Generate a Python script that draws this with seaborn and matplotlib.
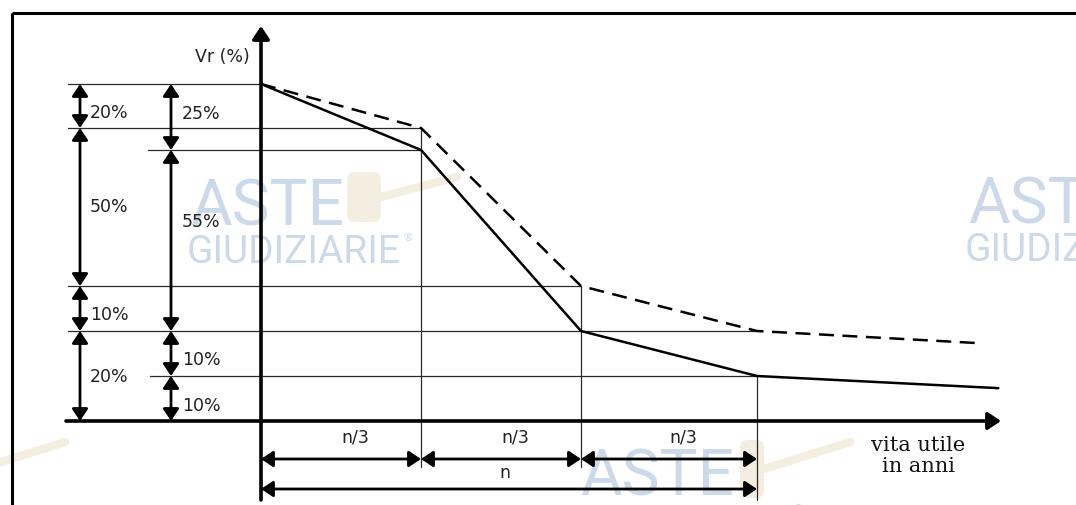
import numpy as np
import pandas as pd
import matplotlib
matplotlib.use("Agg")
import matplotlib.pyplot as plt
import seaborn as sns
from matplotlib.patches import FancyBboxPatch

# ---------------- data ----------------
# diagram levels (residual value %) and where they sit on the (not-to-scale) vertical axis
pct_knots = [0, 10, 20, 30, 75, 80, 100]
pct_pos = [422, 377, 332, 287, 151, 129, 85]
# fractions of useful life n and their horizontal positions
life_knots = [0, 1 / 3, 2 / 3, 1, 1.5]
life_pos = [261, 421, 581, 757, 1021]

life_solid = [0, 1 / 3, 2 / 3, 1, 1.457]
vr_solid = [100, 75, 20, 10, 7.3]
life_dashed = [0, 1 / 3, 2 / 3, 1, 1.42]
vr_dashed = [100, 80, 30, 20, 17.3]

col1_bounds = [100, 80, 30, 20, 0]
col1_labels = ["20%", "50%", "10%", "20%"]
col2_bounds = [100, 75, 20, 10, 0]
col2_labels = ["25%", "55%", "10%", "10%"]

life_segments = [0, 1 / 3, 2 / 3, 1]
segment_labels = ["n/3", "n/3", "n/3"]
total_label = "n"
y_label = "Vr (%)"
x_label = "vita utile\nin anni"


def X(f):
    return np.interp(f, life_knots, life_pos)


def Y(p):
    return np.interp(p, pct_knots, pct_pos)


# ---------------- figure ----------------
sns.set_theme(style="white")
plt.rcParams["font.family"] = ["DejaVu Sans"]

W, H = 1076, 506
fig = plt.figure(figsize=(W / 100, H / 100), dpi=100)
ax = fig.add_axes([0, 0, 1, 1])
ax.set_xlim(0, W)
ax.set_ylim(H, 0)
ax.axis("off")

wm = "#ccd9ea"
cream = "#f3eee0"

# watermarks
def watermark(x, y):
    ax.text(x, y, "ASTE", fontsize=46, family="Roboto", color=wm,
            ha="left", va="baseline", zorder=0)
    ax.text(x - 3, y + 38, "GIUDIZIARIE", fontsize=28, family="Roboto",
            color=wm, ha="left", va="baseline", zorder=0)
    ax.text(x + 213, y + 16, "®", fontsize=8, color=wm, ha="left", va="baseline", zorder=0)

watermark(190, 225)
watermark(968, 223)
watermark(580, 496)


def gavel(hx, hy, hw, hh, ex, ey):
    ax.add_patch(FancyBboxPatch((hx, hy), hw, hh, boxstyle="round,pad=0,rounding_size=8",
                                fc=cream, ec="none", zorder=0.5))
    ax.plot([hx + hw, ex], [hy + hh / 2, ey], color=cream, lw=6,
            solid_capstyle="round", zorder=0.5)

gavel(347, 173, 34, 50, 457, 178)
gavel(740, 441, 24, 58, 850, 443)
ax.plot([-5, 65], [465, 443], color=cream, lw=6, solid_capstyle="round", zorder=0.5)

# frame
ax.plot([12, 12], [H, 14], color="black", lw=2.2, solid_capstyle="butt")
ax.plot([12, W], [14, 14], color="black", lw=2.2, solid_capstyle="butt")

thin = dict(color="#2a2a2a", lw=0.9, zorder=2)

# horizontal reference lines
ax.plot([68, X(0)], [Y(100), Y(100)], **thin)
ax.plot([68, X(1 / 3)], [Y(80), Y(80)], **thin)
ax.plot([148, X(1 / 3)], [Y(75), Y(75)], **thin)
ax.plot([68, X(2 / 3)], [Y(30), Y(30)], **thin)
ax.plot([68, X(1)], [Y(20), Y(20)], **thin)
ax.plot([150, X(1)], [Y(10), Y(10)], **thin)
# vertical reference lines
ax.plot([X(1 / 3), X(1 / 3)], [Y(80), 468], **thin)
ax.plot([X(2 / 3), X(2 / 3)], [Y(30), 468], **thin)
ax.plot([X(1), X(1)], [Y(10), 501], **thin)

# curves
df = pd.concat([
    pd.DataFrame({"x": X(np.array(life_solid)), "y": Y(np.array(vr_solid)), "kind": "solid"}),
    pd.DataFrame({"x": X(np.array(life_dashed)), "y": Y(np.array(vr_dashed)), "kind": "dashed"}),
])
sns.lineplot(data=df, x="x", y="y", style="kind", dashes={"solid": "", "dashed": (6, 3.4)},
             color="black", lw=1.8, sort=False, legend=False, ax=ax, zorder=3)
ax.set_xlim(0, W)
ax.set_ylim(H, 0)
ax.axis("off")

# axes with arrows
axis_arrow = dict(arrowstyle="-|>,head_length=0.6,head_width=0.4", lw=2.6,
                  color="black", shrinkA=0, shrinkB=0, mutation_scale=13)
ax.annotate("", xy=(X(0), 27), xytext=(X(0), 501), arrowprops=axis_arrow, zorder=4)
ax.annotate("", xy=(1001, Y(0)), xytext=(66, Y(0)), arrowprops=axis_arrow, zorder=4)


def dim(p0, p1):
    ax.annotate("", xy=p1, xytext=p0,
                arrowprops=dict(arrowstyle="<|-|>,head_length=0.6,head_width=0.4", lw=2.0,
                                color="black", shrinkA=0, shrinkB=0, mutation_scale=12),
                zorder=4)


txt = dict(fontsize=12.5, color="#222222", va="center", ha="left", zorder=5)

# left dimension columns
label_y1 = [113, 207, 315, 377]
for a, b, lab, ly in zip(col1_bounds[:-1], col1_bounds[1:], col1_labels, label_y1):
    dim((80, Y(a)), (80, Y(b)))
    ax.text(90, ly, lab, **txt)

label_y2 = [114, 222, 360, 406]
for a, b, lab, ly in zip(col2_bounds[:-1], col2_bounds[1:], col2_labels, label_y2):
    dim((171, Y(a)), (171, Y(b)))
    ax.text(182, ly, lab, **txt)

ax.text(250, 57, y_label, fontsize=12.5, color="#222222", va="center", ha="right")

# bottom dimensions
for a, b, lab in zip(life_segments[:-1], life_segments[1:], segment_labels):
    dim((X(a), 460), (X(b), 460))
    ax.text((X(a) + X(b)) / 2 + 14, 438, lab, fontsize=12.5, color="#222222",
            ha="center", va="center")
dim((X(0), 490), (X(1), 490))
ax.text(505, 473, total_label, fontsize=12.5, color="#222222", ha="center", va="center")

ax.text(918, 456, x_label, fontsize=15, family="DejaVu Serif", color="#111111",
        ha="center", va="center", linespacing=1.1)

fig.savefig("out.png", dpi=100)
